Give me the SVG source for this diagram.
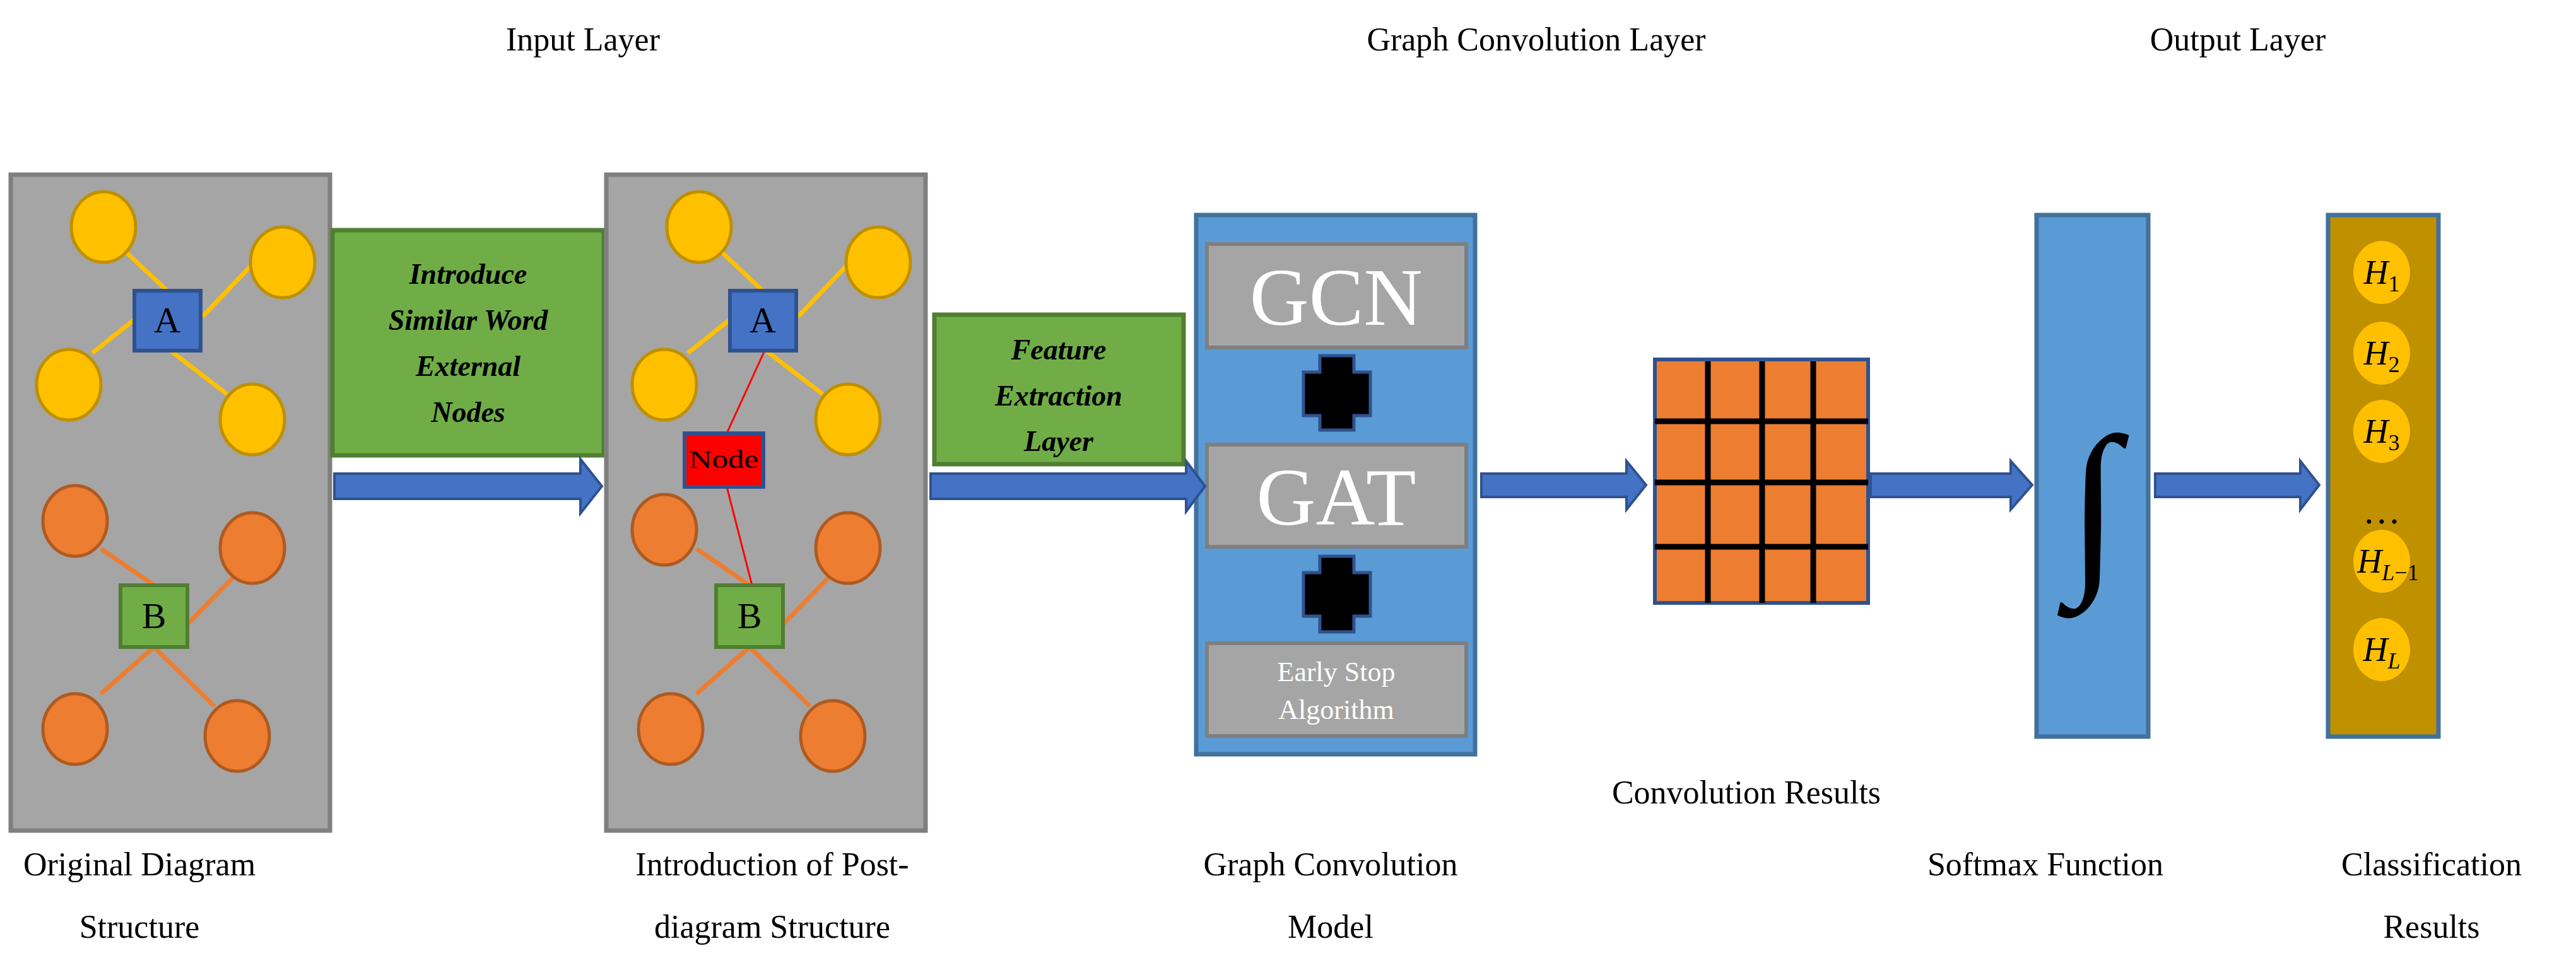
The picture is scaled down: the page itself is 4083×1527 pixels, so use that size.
<svg xmlns="http://www.w3.org/2000/svg" width="4083" height="1527" viewBox="0 0 4083 1527">
<style>
.t{font-family:"Liberation Serif",serif;font-size:52px;fill:#000;text-anchor:middle}
.g{font-family:"Liberation Serif",serif;font-size:46px;font-weight:bold;font-style:italic;text-anchor:middle}
.panel{fill:#A5A5A5;stroke:#7F7F7F;stroke-width:7}
.y{fill:#FFC000;stroke:#BF9000;stroke-width:5}
.o{fill:#ED7D31;stroke:#AE5A21;stroke-width:5}
.yl{stroke:#FFC000;stroke-width:7}
.ol{stroke:#ED7D31;stroke-width:7}
.arr{fill:#4472C4;stroke:#2F528F;stroke-width:4}
.gb{fill:#70AD47;stroke:#507E32;stroke-width:7}
.gr{fill:#A5A5A5;stroke:#7F7F7F;stroke-width:6}
.w{font-family:"Liberation Serif",serif;fill:#fff;text-anchor:middle}
.h{font-family:"Liberation Serif",serif;font-style:italic;font-size:54px;text-anchor:middle}
</style>
<rect width="4083" height="1527" fill="#fff"/>
<g id="titles">
<text class="t" x="924" y="80">Input Layer</text>
<text class="t" x="2435" y="80">Graph Convolution Layer</text>
<text class="t" x="3547" y="80">Output Layer</text>
</g>
<g id="panel1">
<rect class="panel" x="17" y="277" width="506" height="1040"/>
<g class="yl"><line x1="200" y1="400" x2="265" y2="461"/><line x1="400" y1="419" x2="321" y2="502"/><line x1="146" y1="560" x2="215" y2="505"/><line x1="270" y1="556" x2="360" y2="625"/></g>
<g class="ol"><line x1="160" y1="870" x2="244" y2="928"/><line x1="375" y1="910" x2="297" y2="990"/><line x1="160" y1="1100" x2="244" y2="1026"/><line x1="340" y1="1120" x2="244" y2="1026"/></g>
<ellipse class="y" cx="164" cy="360" rx="51" ry="56"/><ellipse class="y" cx="448" cy="416" rx="51" ry="56"/><ellipse class="y" cx="109" cy="610" rx="51" ry="56"/><ellipse class="y" cx="400" cy="665" rx="51" ry="56"/>
<ellipse class="o" cx="119" cy="826" rx="51" ry="56"/><ellipse class="o" cx="400" cy="869" rx="51" ry="56"/><ellipse class="o" cx="119" cy="1156" rx="51" ry="56"/><ellipse class="o" cx="376" cy="1167" rx="51" ry="56"/>
<rect x="213" y="461" width="105" height="95" fill="#4472C4" stroke="#2F528F" stroke-width="6"/>
<text x="265" y="527" font-family="Liberation Serif,serif" font-size="58" text-anchor="middle">A</text>
<rect x="191" y="928" width="106" height="98" fill="#70AD47" stroke="#507E32" stroke-width="6"/>
<text x="244" y="996" font-family="Liberation Serif,serif" font-size="58" text-anchor="middle">B</text>
</g>
<g id="box1">
<rect class="gb" x="527" y="365" width="430" height="357"/>
<text class="g" x="742" y="450">Introduce</text><text class="g" x="742" y="523">Similar Word</text><text class="g" x="742" y="596">External</text><text class="g" x="742" y="669">Nodes</text>
</g>
<g id="panel2">
<rect class="panel" x="961" y="277" width="506" height="1040"/>
<g transform="translate(944,0)">
<g class="yl"><line x1="200" y1="400" x2="265" y2="461"/><line x1="400" y1="419" x2="321" y2="502"/><line x1="146" y1="560" x2="215" y2="505"/><line x1="270" y1="556" x2="360" y2="625"/></g>
<g class="ol"><line x1="160" y1="870" x2="244" y2="928"/><line x1="375" y1="910" x2="297" y2="990"/><line x1="160" y1="1100" x2="244" y2="1026"/><line x1="340" y1="1120" x2="244" y2="1026"/></g>
<ellipse class="y" cx="164" cy="360" rx="51" ry="56"/><ellipse class="y" cx="448" cy="416" rx="51" ry="56"/><ellipse class="y" cx="109" cy="610" rx="51" ry="56"/><ellipse class="y" cx="400" cy="665" rx="51" ry="56"/>
<ellipse class="o" cx="109" cy="840" rx="51" ry="56"/><ellipse class="o" cx="400" cy="869" rx="51" ry="56"/><ellipse class="o" cx="119" cy="1156" rx="51" ry="56"/><ellipse class="o" cx="376" cy="1167" rx="51" ry="56"/>
<line x1="268" y1="556" x2="208" y2="687" stroke="#FF0000" stroke-width="3"/>
<line x1="208" y1="772" x2="248" y2="928" stroke="#FF0000" stroke-width="3"/>
<rect x="213" y="461" width="105" height="95" fill="#4472C4" stroke="#2F528F" stroke-width="6"/>
<text x="265" y="527" font-family="Liberation Serif,serif" font-size="58" text-anchor="middle">A</text>
<rect x="191" y="928" width="106" height="98" fill="#70AD47" stroke="#507E32" stroke-width="6"/>
<text x="244" y="996" font-family="Liberation Serif,serif" font-size="58" text-anchor="middle">B</text>
</g>
<rect x="1085" y="687" width="125" height="85" fill="#FF0000" stroke="#2F528F" stroke-width="6"/>
<text x="1147" y="742" font-family="Liberation Serif,serif" font-size="40" text-anchor="middle" textLength="110" lengthAdjust="spacingAndGlyphs">Node</text>
</g>
<g id="box2">
<rect class="gb" x="1481" y="499" width="395" height="237"/>
<text class="g" x="1678" y="570">Feature</text><text class="g" x="1678" y="643">Extraction</text><text class="g" x="1678" y="715">Layer</text>
</g>
<g id="model">
<rect x="1896" y="341" width="442" height="855" fill="#5B9BD5" stroke="#41719C" stroke-width="7"/>
<rect class="gr" x="1913" y="387" width="411" height="164"/>
<text class="w" x="2118" y="515" font-size="130">GCN</text>
<path d="M2092 564h54v26h26v69h-26v23h-54v-23h-26v-69h26z" fill="#000" stroke="#2F528F" stroke-width="5"/>
<rect class="gr" x="1913" y="705" width="411" height="162"/>
<text class="w" x="2118" y="832" font-size="130">GAT</text>
<path d="M2092 882h54v26h26v69h-26v25h-54v-25h-26v-69h26z" fill="#000" stroke="#2F528F" stroke-width="5"/>
<rect class="gr" x="1913" y="1020" width="411" height="147"/>
<text class="w" x="2118" y="1080" font-size="44">Early Stop</text>
<text class="w" x="2118" y="1140" font-size="44">Algorithm</text>
</g>
<g id="grid">
<rect x="2623" y="570" width="338" height="386" fill="#ED7D31" stroke="#2F528F" stroke-width="6"/>
<g stroke="#000" stroke-width="9"><line x1="2707" y1="573" x2="2707" y2="956"/><line x1="2793" y1="573" x2="2793" y2="956"/><line x1="2874" y1="573" x2="2874" y2="956"/><line x1="2623" y1="668" x2="2961" y2="668"/><line x1="2623" y1="765" x2="2961" y2="765"/><line x1="2623" y1="867" x2="2961" y2="867"/></g>
</g>
<g id="softmax">
<rect x="3228" y="341" width="177" height="827" fill="#5B9BD5" stroke="#41719C" stroke-width="7"/>
<text x="3318" y="900" font-family="Liberation Serif,serif" font-size="300" text-anchor="middle">∫</text>
</g>
<g id="output">
<rect x="3690" y="341" width="175" height="827" fill="#BF9000" stroke="#41719C" stroke-width="7"/>
<g fill="#FFC000"><ellipse cx="3775" cy="432" rx="45" ry="50"/><ellipse cx="3775" cy="560" rx="45" ry="50"/><ellipse cx="3775" cy="684" rx="45" ry="50"/><ellipse cx="3775" cy="890" rx="45" ry="50"/><ellipse cx="3775" cy="1030" rx="45" ry="50"/></g>
<text class="h" x="3775" y="450">H<tspan font-style="normal" font-size="36" dy="12">1</tspan></text>
<text class="h" x="3775" y="578">H<tspan font-style="normal" font-size="36" dy="12">2</tspan></text>
<text class="h" x="3775" y="702">H<tspan font-style="normal" font-size="36" dy="12">3</tspan></text>
<text x="3775" y="830" font-family="Liberation Serif,serif" font-size="60" text-anchor="middle">…</text>
<text class="h" x="3785" y="908">H<tspan font-size="36" dy="12">L</tspan><tspan font-style="normal" font-size="36">−1</tspan></text>
<text class="h" x="3775" y="1048">H<tspan font-size="36" dy="12">L</tspan></text>
</g>
<g id="connectors">
<path class="arr" d="M530 751h390v-23l34 43l-34 43v-23h-390z"/>
<path class="arr" d="M1475 751h405v-20l30 40l-30 40v-20h-405z"/>
<path class="arr" d="M2348 751h230v-20l31 38l-31 39v-20h-230z"/>
<path class="arr" d="M2965 751h222v-20l34 38l-34 39v-20h-222z"/>
<path class="arr" d="M3416 751h230v-20l30 38l-30 39v-20h-230z"/>
</g>
<g id="labels">
<text class="t" x="221" y="1388">Original Diagram</text><text class="t" x="221" y="1487">Structure</text>
<text class="t" x="1224" y="1388">Introduction of Post-</text><text class="t" x="1224" y="1487">diagram Structure</text>
<text class="t" x="2109" y="1388">Graph Convolution</text><text class="t" x="2109" y="1487">Model</text>
<text class="t" x="2768" y="1274">Convolution Results</text>
<text class="t" x="3242" y="1388">Softmax Function</text>
<text class="t" x="3854" y="1388">Classification</text><text class="t" x="3854" y="1487">Results</text>
</g>
</svg>
